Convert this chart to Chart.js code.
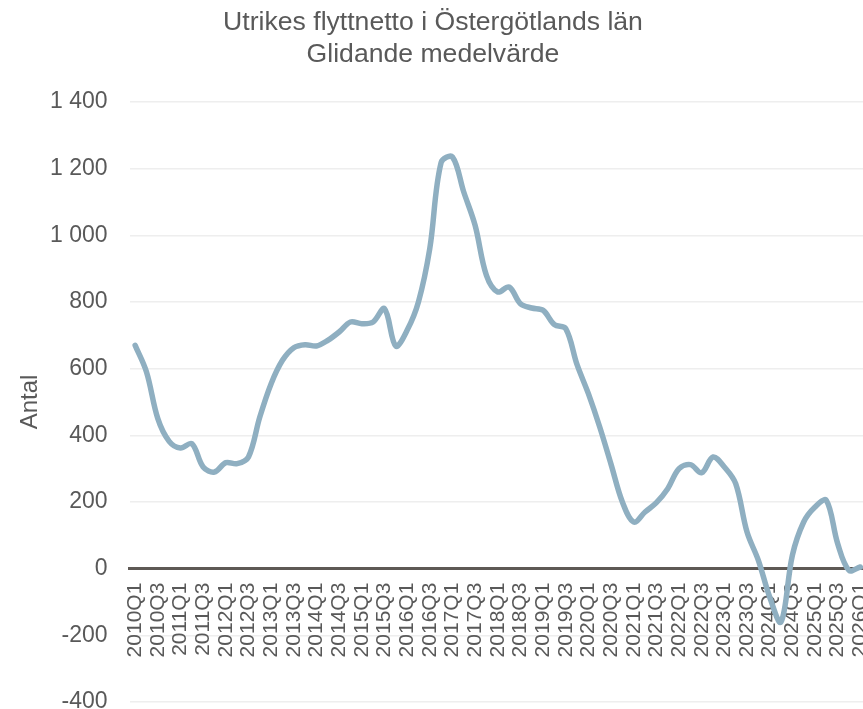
<!DOCTYPE html>
<html lang="sv">
<head>
<meta charset="utf-8">
<title>Utrikes flyttnetto i Östergötlands län</title>
<script src="https://cdn.jsdelivr.net/npm/chart.js@4.4.1/dist/chart.umd.min.js"></script>
<style>
  html, body { margin: 0; padding: 0; background: #ffffff; }
  #wrap { width: 863px; height: 709px; overflow: hidden; }
  #chart { display: block; }
</style>
</head>
<body>
<div id="wrap"><canvas id="chart" width="875" height="709"></canvas></div>
<script>
// Quarters on the category axis
const quarters = [
  '2010Q1','2010Q2','2010Q3','2010Q4','2011Q1','2011Q2','2011Q3','2011Q4',
  '2012Q1','2012Q2','2012Q3','2012Q4','2013Q1','2013Q2','2013Q3','2013Q4',
  '2014Q1','2014Q2','2014Q3','2014Q4','2015Q1','2015Q2','2015Q3','2015Q4',
  '2016Q1','2016Q2','2016Q3','2016Q4','2017Q1','2017Q2','2017Q3','2017Q4',
  '2018Q1','2018Q2','2018Q3','2018Q4','2019Q1','2019Q2','2019Q3','2019Q4',
  '2020Q1','2020Q2','2020Q3','2020Q4','2021Q1','2021Q2','2021Q3','2021Q4',
  '2022Q1','2022Q2','2022Q3','2022Q4','2023Q1','2023Q2','2023Q3','2023Q4',
  '2024Q1','2024Q2','2024Q3','2024Q4','2025Q1','2025Q2','2025Q3','2025Q4',
  '2026Q1'
];

// Net international migration, moving average (persons)
const netMigration = [
  670, 590, 450, 382, 362, 375, 305, 290,
  318, 315, 335, 455, 555, 625, 663, 672,
  668, 685, 710, 740, 735, 740, 780, 668,
  715, 800, 960, 1218, 1235, 1130, 1030, 880,
  830, 845, 795, 782, 775, 732, 720, 612,
  525, 425, 313, 200, 140, 170, 198, 240,
  300, 312, 288, 335, 305, 255, 110, 25,
  -85, -160, 40, 140, 185, 205, 75, -5,
  5
];

// Value axis ticks
const yTicks = [-400, -200, 0, 200, 400, 600, 800, 1000, 1200, 1400];

const titleLines = ['Utrikes flyttnetto i Östergötlands län', 'Glidande medelvärde'];
const yAxisTitle = 'Antal';

const FONT = "'Liberation Sans', Arial, Helvetica, sans-serif";
const TEXT = '#595959';

function formatThousands(v) {
  const s = Math.abs(v).toString().replace(/\B(?=(\d{3})+(?!\d))/g, '\u00a0');
  return (v < 0 ? '-' : '') + s;
}

new Chart(document.getElementById('chart'), {
  type: 'line',
  data: {
    labels: quarters,
    datasets: [{
      data: netMigration,
      borderColor: '#8FAFC1',
      borderWidth: 5.5,
      borderCapStyle: 'round',
      borderJoinStyle: 'round',
      tension: 0.35,
      pointRadius: 0,
      pointHoverRadius: 0,
      fill: false
    }]
  },
  options: {
    responsive: false,
    animation: false,
    devicePixelRatio: 1,
    layout: { padding: { left: 0, right: 9, top: 0, bottom: 7 } },
    plugins: {
      legend: { display: false },
      tooltip: { enabled: false },
      title: {
        display: true,
        text: titleLines,
        color: TEXT,
        font: { family: FONT, size: 26.6, weight: 'normal', lineHeight: '32px' },
        padding: { top: 7, bottom: 31 }
      }
    },
    scales: {
      x: {
        type: 'category',
        position: { y: 0 },
        offset: true,
        grid: { display: false, drawTicks: false },
        border: { display: true, color: '#5E5955', width: 3 },
        ticks: {
          autoSkip: false,
          minRotation: 90,
          maxRotation: 90,
          padding: 14,
          color: TEXT,
          font: { family: FONT, size: 21 },
          callback: function (value, index) {
            return index % 2 === 0 ? this.getLabelForValue(value) : '';
          }
        },
        afterFit: function (scale) {
          scale.paddingLeft = 0;
          scale.paddingRight = 0;
          scale.paddingTop = 0;
          scale.paddingBottom = 0;
        }
      },
      y: {
        min: yTicks[0],
        max: yTicks[yTicks.length - 1],
        afterBuildTicks: function (scale) {
          scale.ticks = yTicks.map(v => ({ value: v }));
        },
        grid: { color: '#EEEEEE', lineWidth: 1.5, drawTicks: false },
        border: { display: false },
        ticks: {
          padding: 22,
          color: TEXT,
          font: { family: FONT, size: 23 },
          callback: v => formatThousands(v)
        },
        title: {
          display: true,
          text: yAxisTitle,
          color: TEXT,
          font: { family: FONT, size: 24 },
          padding: { top: 16, bottom: 0 }
        },
        afterFit: function (scale) {
          scale.width = 129.5;
          scale.paddingTop = 0;
          scale.paddingBottom = 0;
          scale.paddingLeft = 0;
          scale.paddingRight = 0;
        }
      }
    }
  }
});
</script>
</body>
</html>
